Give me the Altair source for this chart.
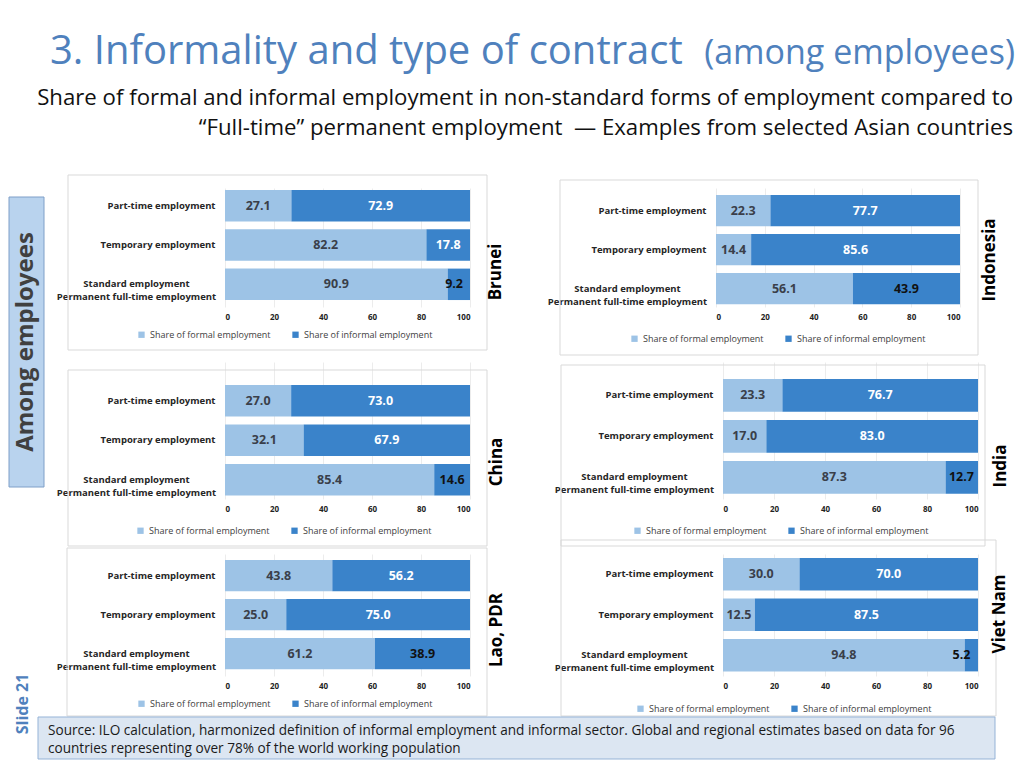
import altair as alt
import pandas as pd

# ---------------- data ----------------
categories = [
    "Part-time employment",
    "Temporary employment",
    "Standard employment|Permanent full-time employment",
]
series = ["Share of formal employment", "Share of informal employment"]
countries = ["Brunei", "Indonesia", "China", "India", "Lao, PDR", "Viet Nam"]
formal_share = {
    "Brunei": [27.1, 82.2, 90.9],
    "Indonesia": [22.3, 14.4, 56.1],
    "China": [27.0, 32.1, 85.4],
    "India": [23.3, 17.0, 87.3],
    "Lao, PDR": [43.8, 25.0, 61.2],
    "Viet Nam": [30.0, 12.5, 94.8],
}
informal_share = {
    "Brunei": [72.9, 17.8, 9.2],
    "Indonesia": [77.7, 85.6, 43.9],
    "China": [73.0, 67.9, 14.6],
    "India": [76.7, 83.0, 12.7],
    "Lao, PDR": [56.2, 75.0, 38.9],
    "Viet Nam": [70.0, 87.5, 5.2],
}
x_ticks = [0, 20, 40, 60, 80, 100]

title_main = "3. Informality and type of contract"
title_paren = "(among employees)"
subtitle_1 = "Share of formal and informal employment in non-standard forms of employment compared to"
subtitle_2 = "\u201cFull-time\u201d permanent employment \u00a0\u2014 Examples from selected Asian countries"
side_label = "Among employees"
slide_label = "Slide 21"
source_1 = ("Source: ILO calculation, harmonized definition of informal employment and informal sector. "
            "Global and regional estimates based on data for 96")
source_2 = "countries representing over 78% of the world working population"

# ---------------- styles / layout (page pixels) ----------------
FORMAL_COLOR = "#9DC3E6"
INFORMAL_COLOR = "#3A83CA"
TITLE_BLUE = "#4F81BD"
FONT = "Open Sans"

COL_X = [225, 723]          # left edge of plot area per column
COL_W = [245, 255]
ROW_SPACING = 55
ROW_TOP = [188, 362, 554]
ROW_H = [119, 137, 122]

geom = {
    # bx: plot x-span of bars, bt: first bar top, step: bar pitch
    "Brunei":    dict(row=0, col=0, bx=(225, 470), bt=190, step=39.3, leg=(137, 330), frame=(68, 175, 487, 350), lab=(496, 272)),
    "Indonesia": dict(row=0, col=1, bx=(716, 960), bt=195, step=39.0, leg=(630, 334), frame=(560, 180, 978, 355), lab=(990, 260)),
    "China":     dict(row=1, col=0, bx=(225, 470), bt=385, step=39.5, leg=(136, 526), frame=(68, 370, 487, 546), lab=(497, 462)),
    "India":     dict(row=1, col=1, bx=(723, 978), bt=379, step=41.0, leg=(633, 526), frame=(561, 365, 985, 546), lab=(1001, 466)),
    "Lao, PDR":  dict(row=2, col=0, bx=(225, 470), bt=560, step=39.0, leg=(137, 699), frame=(67, 548, 487, 716), lab=(497, 630)),
    "Viet Nam":  dict(row=2, col=1, bx=(723, 978), bt=558, step=40.5, leg=(636, 704), frame=(561, 540, 996, 716), lab=(1000, 614)),
}

one = pd.DataFrame({"k": [0]})

label_expr = "indexof(datum.label, '|') >= 0 ? split(datum.label, '|') : datum.label"
multi_test = "indexof(datum.value, '|') >= 0"


def vtext(text, x, y, ox, oy, **kw):
    return alt.Chart(one).mark_text(**kw).encode(
        x=alt.value(x - ox), y=alt.value(y - oy), text=alt.value(text)
    )


def vrect(x1, y1, x2, y2, ox, oy, **kw):
    return alt.Chart(one).mark_rect(**kw).encode(
        x=alt.value(x1 - ox), x2=alt.value(x2 - ox),
        y=alt.value(y1 - oy), y2=alt.value(y2 - oy),
    )


def origin(country):
    g = geom[country]
    return COL_X[g["col"]], ROW_TOP[g["row"]]


def panel(country, extra_before=(), extra_after=()):
    g = geom[country]
    ox, oy = origin(country)
    w = COL_W[g["col"]]
    h = ROW_H[g["row"]]
    step = g["step"]
    pad_outer = (h / step - 2.8) / 2
    band_align = (g["bt"] - oy) / (h - 2.8 * step)
    xr = [g["bx"][0] - ox, g["bx"][1] - ox]

    rows = []
    for i, cat in enumerate(categories):
        f = formal_share[country][i]
        inf = informal_share[country][i]
        rows.append(dict(category=cat, series=series[0], value=f, start=0.0, end=f,
                         labelx=f / 2, tcolor="#3a3f4a"))
        rows.append(dict(category=cat, series=series[1], value=inf, start=f, end=f + inf,
                         labelx=min(f + inf / 2, 93.5),
                         tcolor="#111111" if i == 2 else "#ffffff"))
    df = pd.DataFrame(rows)

    yenc = alt.Y(
        "category:N", sort=categories, title=None,
        scale=alt.Scale(paddingInner=0.2, paddingOuter=pad_outer, align=band_align),
        axis=alt.Axis(ticks=False, domain=False, labelFontSize=9.5,
                      labelFontWeight="bold", labelColor="#262626", labelLimit=0,
                      labelLineHeight=13, labelExpr=label_expr, grid=False,
                      labelAlign={"condition": {"test": multi_test, "value": "center"}, "value": "right"},
                      labelPadding={"condition": {"test": multi_test, "value": 89}, "value": 10},
                      offset=-xr[0]),
    )
    bars = alt.Chart(df).mark_bar().encode(
        y=yenc,
        x=alt.X("start:Q", title=None,
                scale=alt.Scale(domain=[0, 100], nice=False, clamp=True, range=xr),
                axis=alt.Axis(values=x_ticks, grid=True, gridColor="#ececec", domain=False,
                              ticks=False, labelFontSize=8, labelPadding=6,
                              labelColor="#222222", labelFontWeight="bold")),
        x2="end:Q",
        color=alt.Color(
            "series:N",
            scale=alt.Scale(domain=series, range=[FORMAL_COLOR, INFORMAL_COLOR]),
            legend=alt.Legend(title=None, orient="none", direction="horizontal",
                              legendX=g["leg"][0] - ox, legendY=g["leg"][1] - oy,
                              symbolType="square", symbolSize=40, symbolStrokeWidth=0,
                              labelFontSize=9, labelColor="#404040", columnPadding=20,
                              labelLimit=0),
        ),
    )
    labels = alt.Chart(df).mark_text(fontSize=12.5, fontWeight="bold").encode(
        y=alt.Y("category:N", sort=categories),
        x=alt.X("labelx:Q"),
        text=alt.Text("value:Q", format=".1f"),
        fill=alt.Fill("tcolor:N", scale=None),
    )
    fx1, fy1, fx2, fy2 = g["frame"]
    frame = vrect(fx1, fy1, fx2, fy2, ox, oy, fillOpacity=0, stroke="#d9d9d9", strokeWidth=1)
    name = vtext(country, g["lab"][0], g["lab"][1], ox, oy, angle=270, fontSize=17,
                 fontWeight="bold", color="#000000")
    layers = list(extra_before) + [frame, bars, labels, name] + list(extra_after)
    return alt.layer(*layers).properties(width=w, height=h)


# decorations attached to the first panel (page coordinates converted to panel offsets)
o1 = origin("Brunei")
deco1 = [
    vrect(8, 8, 1016, 760, *o1, opacity=0),
    vtext(title_main, 50, 64, *o1, align="left", baseline="alphabetic", fontSize=40, color=TITLE_BLUE),
    vtext(title_paren, 1015, 64, *o1, align="right", baseline="alphabetic", fontSize=34, color=TITLE_BLUE),
    vtext(subtitle_1, 1013, 105, *o1, align="right", baseline="alphabetic", fontSize=22.2, color="#111111"),
    vtext(subtitle_2, 1013, 135, *o1, align="right", baseline="alphabetic", fontSize=22.2, color="#111111"),
    vrect(9, 197, 44, 487, *o1, fill="#B9D3EE", stroke="#7F9FC8", strokeWidth=1),
    vtext(side_label, 26, 342, *o1, angle=270, fontSize=24, fontWeight="bold", color="#404040"),
    vtext(slide_label, 23, 704, *o1, angle=270, fontSize=16, fontWeight="bold", color=TITLE_BLUE),
]
o6 = origin("Viet Nam")
deco6 = [
    vrect(38, 717, 995, 759, *o6, fill="#DCE6F2", stroke="#95B3D7", strokeWidth=1),
    vtext(source_1, 48, 731, *o6, align="left", fontSize=13.6, color="#1a1a1a"),
    vtext(source_2, 48, 749, *o6, align="left", fontSize=13.6, color="#1a1a1a"),
]

p = {c: panel(c) for c in countries}
p["Brunei"] = panel("Brunei", extra_before=deco1)
p["Viet Nam"] = panel("Viet Nam", extra_after=deco6)

chart = alt.concat(
    *[p[c] for c in countries], columns=2,
    spacing={"row": ROW_SPACING, "column": COL_X[1] - COL_X[0] - COL_W[0]},
    bounds="flush",
).resolve_scale(color="independent").resolve_legend(color="independent")

chart = chart.properties(padding=0).configure(font=FONT).configure_view(stroke=None)

chart.save("out.html", embed_options={"renderer": "svg", "actions": False})
